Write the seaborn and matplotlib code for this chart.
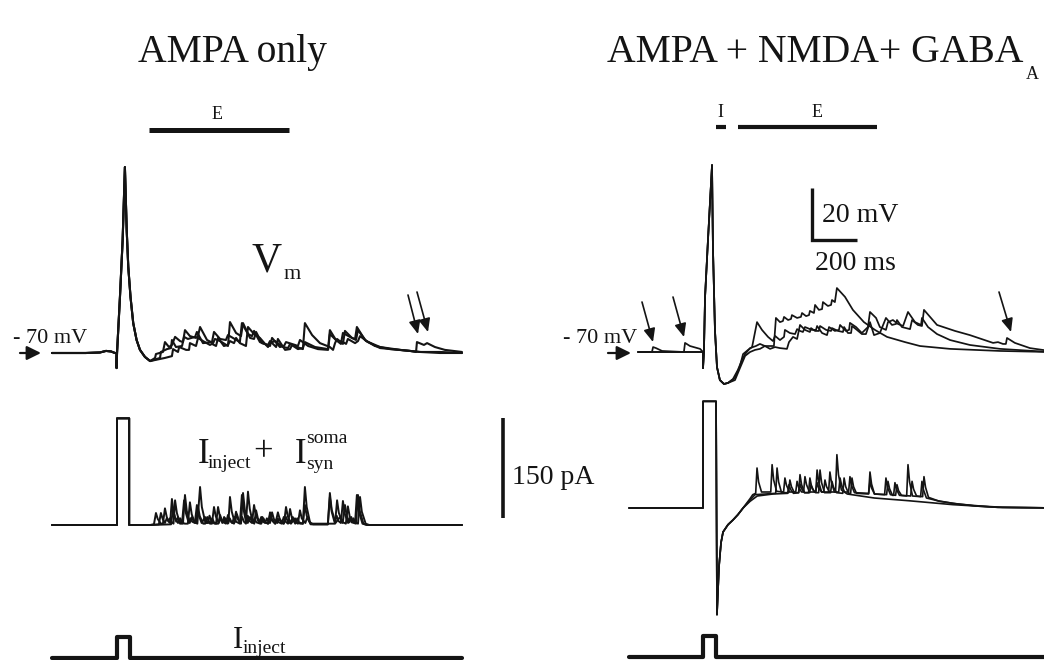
import matplotlib
matplotlib.use("Agg")
import matplotlib.pyplot as plt
import pandas as pd
import seaborn as sns

sns.set_theme(style="white")
plt.rcParams["font.family"] = ["Liberation Serif", "DejaVu Serif"]

INK = "#141414"
W, H = 1044, 660

# ---- calibration of the traces (scale bars: 200 ms, 20 mV, 150 pA) ----
MS_PER_PX = 200 / 45
MV_PER_PX = 20 / 52
PA_PER_PX = 150 / 100
INJ_PER_PX = 160 / 21

# ---- somatic membrane potential, AMPA only (t in ms, V in mV) ----
LEFT_VM_SPIKE = [(0, -70), (150, -70), (213, -69.8), (240, -69.2), (262, -69.4), (280, -70),
                 (287, -70), (287, -75.8), (289, -70), (302, -48.5), (314, -26.5), (324, 1.5),
                 (332, -22.7), (339, -36.9), (349, -48.5), (361, -58.5), (376, -65), (391, -68.8),
                 (413, -71.5), (436, -73.1)]
LEFT_VM_A = [(458, -71.9), (462, -70.4), (493, -69.6), (502, -65.8), (520, -67.7), (533, -66.9),
             (547, -63.8), (569, -65.4), (582, -65.8), (591, -61.2), (613, -63.5), (640, -64.2),
             (649, -63.5), (658, -60.0), (689, -65.0), (716, -66.2), (724, -64.6), (747, -65.4),
             (782, -67.3), (791, -58.1), (818, -62.3), (840, -63.5), (849, -58.5), (880, -64.2),
             (898, -64.6), (907, -61.9), (933, -66.2), (960, -66.9), (969, -65.4), (996, -67.7),
             (1004, -64.6), (1036, -68.8), (1058, -68.5), (1067, -66.9), (1102, -68.1), (1115, -68.5),
             (1124, -58.5), (1156, -63.1), (1191, -66.2), (1235, -67.7), (1249, -68.8), (1258, -66.2),
             (1267, -64.6), (1293, -66.5), (1302, -61.5), (1333, -64.2), (1347, -64.6), (1355, -60.0),
             (1391, -65.0), (1435, -67.3), (1502, -68.5), (1591, -69.2), (1618, -69.6), (1622, -65.8),
             (1653, -66.9), (1667, -66.2), (1702, -67.7), (1746, -68.8), (1822, -69.6)]
LEFT_VM_B = [(480, -71.9), (484, -69.6), (511, -68.5), (529, -68.1), (533, -65.0), (551, -67.7),
             (578, -67.3), (587, -63.8), (604, -64.6), (636, -63.8), (644, -61.9), (671, -66.2),
             (711, -65.8), (720, -61.9), (747, -64.6), (773, -65.0), (782, -63.1), (804, -64.2),
             (835, -65.8), (844, -58.5), (871, -62.7), (889, -63.5), (898, -61.5), (924, -65.8),
             (969, -67.3), (978, -64.2), (1013, -67.7), (1031, -67.3), (1040, -65.8), (1080, -66.9),
             (1093, -67.3), (1102, -65.0), (1138, -67.3), (1182, -68.5), (1227, -68.8), (1235, -62.7),
             (1262, -65.0), (1284, -66.5), (1293, -62.3), (1324, -63.8), (1351, -65.0), (1360, -61.2),
             (1396, -65.4), (1458, -67.7), (1547, -68.8), (1635, -69.6), (1724, -69.6), (1822, -70.0)]
LEFT_VM_C = [(502, -71.9), (533, -71.2), (538, -68.5), (560, -69.6), (565, -67.7), (596, -68.8),
             (609, -68.8), (613, -66.2), (640, -67.3), (649, -64.2), (671, -65.4), (702, -66.9),
             (711, -66.5), (729, -67.3), (738, -64.2), (764, -67.3), (782, -66.9), (791, -65.4),
             (809, -66.2), (818, -64.2), (835, -66.2), (862, -67.3), (871, -60.0), (898, -62.7),
             (924, -64.2), (951, -66.9), (960, -67.7), (969, -66.2), (991, -65.4), (1027, -67.7),
             (1049, -68.1), (1058, -66.5), (1093, -68.5), (1115, -68.1), (1124, -65.8), (1169, -67.7),
             (1227, -68.5), (1235, -61.2), (1262, -65.0), (1293, -65.8), (1307, -66.5), (1315, -64.6),
             (1347, -66.2), (1360, -65.4), (1369, -63.5), (1404, -65.8), (1458, -68.1), (1547, -68.8),
             (1635, -69.6), (1724, -70.0), (1822, -70.0)]

# ---- somatic current I_inject + I_syn, AMPA only (pA) ----
LEFT_I_PULSE = [(0, 0), (289, 0), (289, 160), (343, 160), (343, 0), (436, 0)]
LEFT_I_A = [(453, 1), (462, 18), (470, 9), (484, 2), (493, 2), (502, 25), (510, 12), (517, 6),
            (524, 10), (532, 4), (540, 2), (547, 37), (555, 18), (569, 2), (582, 2), (591, 45),
            (599, 21), (612, 3), (622, 12), (630, 5), (646, 2), (658, 57), (666, 27), (682, 3),
            (692, 3), (700, 14), (708, 6), (722, 2), (739, 2), (747, 15), (755, 7), (764, 4),
            (771, 10), (779, 5), (784, 3), (791, 42), (799, 20), (812, 4), (822, 16), (830, 7),
            (840, 2), (849, 48), (857, 23), (870, 3), (880, 12), (888, 5), (899, 2), (907, 22),
            (915, 10), (930, 2), (940, 10), (948, 4), (961, 2), (969, 19), (977, 9), (993, 2),
            (1004, 19), (1012, 9), (1028, 2), (1040, 12), (1048, 5), (1062, 2), (1080, 10), (1088, 4),
            (1104, 2), (1115, 2), (1124, 57), (1132, 27), (1148, 2), (1258, 2), (1267, 37), (1275, 18),
            (1292, 3), (1302, 30), (1310, 14), (1322, 4), (1330, 12), (1338, 5), (1347, 3), (1355, 45),
            (1363, 21), (1380, 2), (1400, 0), (1822, 0)]
LEFT_I_B = [(475, 1), (484, 18), (492, 9), (502, 3), (510, 10), (518, 5), (525, 3), (533, 39),
            (541, 19), (552, 5), (560, 12), (568, 5), (578, 3), (587, 37), (595, 18), (607, 4),
            (615, 10), (623, 5), (635, 3), (644, 30), (652, 15), (665, 3), (680, 12), (688, 5),
            (703, 2), (711, 2), (720, 27), (728, 13), (741, 3), (750, 10), (758, 5), (773, 2),
            (782, 15), (790, 7), (801, 3), (810, 12), (818, 5), (835, 2), (844, 45), (852, 22),
            (862, 5), (870, 14), (878, 6), (889, 3), (898, 30), (906, 15), (920, 3), (930, 12),
            (938, 5), (947, 3), (955, 10), (963, 4), (969, 3), (978, 19), (986, 9), (1001, 3),
            (1010, 10), (1018, 4), (1031, 2), (1040, 27), (1048, 13), (1061, 3), (1070, 12), (1078, 5),
            (1093, 2), (1102, 22), (1110, 10), (1126, 3), (1135, 12), (1143, 5), (1160, 1), (1226, 1),
            (1235, 42), (1243, 20), (1256, 4), (1265, 14), (1273, 6), (1284, 3), (1293, 36), (1301, 17),
            (1316, 3), (1325, 10), (1333, 4), (1351, 2), (1360, 45), (1368, 21), (1384, 2), (1400, 0),
            (1822, 0)]
LEFT_I_C = [(529, 1), (538, 24), (546, 11), (560, 3), (570, 10), (578, 4), (590, 2), (604, 2),
            (613, 34), (621, 16), (634, 4), (640, 3), (649, 27), (657, 13), (672, 2), (681, 2),
            (690, 12), (698, 5), (705, 3), (712, 10), (720, 4), (729, 2), (738, 27), (746, 13),
            (757, 3), (765, 12), (773, 5), (781, 2), (790, 10), (798, 4), (809, 2), (818, 20),
            (826, 9), (837, 3), (845, 12), (853, 5), (862, 2), (871, 50), (879, 24), (892, 4),
            (900, 10), (908, 4), (926, 2), (935, 12), (943, 5), (960, 2), (969, 15), (977, 7),
            (991, 2), (1000, 10), (1008, 4), (1021, 2), (1030, 12), (1038, 5), (1049, 2), (1058, 24),
            (1066, 11), (1081, 2), (1090, 10), (1098, 4), (1115, 2), (1124, 30), (1132, 14), (1150, 1),
            (1226, 1), (1235, 48), (1243, 23), (1260, 3), (1280, 12), (1288, 5), (1306, 2), (1315, 28),
            (1323, 13), (1333, 4), (1340, 10), (1348, 4), (1360, 2), (1369, 42), (1377, 20), (1394, 2),
            (1410, 0), (1822, 0)]

# ---- injected current step (pA) ----
LEFT_INJECT = [(0, 0), (289, 0), (289, 160), (345, 160), (345, 0), (1822, 0)]
RIGHT_INJECT = [(-40, 0), (289, 0), (289, 160), (347, 160), (347, 0), (1870, 0)]

# ---- somatic membrane potential, AMPA + NMDA + GABA_A ----
RIGHT_VM_LEAD_1 = [(0, -70), (62, -70), (67, -68.1), (80, -68.5), (107, -69.6), (204, -70),
                   (209, -66.5), (231, -67.7), (276, -68.8)]
RIGHT_VM_LEAD = [(0, -70), (276, -70)]
RIGHT_VM_SPIKE = [(289, -70), (289, -76.2), (293, -70), (298, -48.8), (311, -26.9), (329, 1.9),
                  (333, -29.6), (342, -61.5), (351, -75.8), (364, -80.8), (382, -82.3)]
RIGHT_VM_1 = [(400, -81.9), (422, -80.4), (444, -76.9), (462, -73.1), (476, -70.8), (498, -68.5),
              (524, -67.7), (542, -66.9), (564, -67.7), (604, -67.7), (613, -56.9), (631, -58.5),
              (644, -58.1), (649, -56.5), (667, -57.7), (680, -57.3), (684, -55.8), (707, -56.9),
              (724, -56.5), (729, -55.0), (747, -56.2), (760, -55.8), (764, -54.2), (782, -55.0),
              (787, -51.9), (804, -53.8), (818, -53.5), (822, -50.8), (844, -52.3), (858, -51.9),
              (862, -50.0), (875, -50.8), (884, -45.4), (920, -48.8), (955, -53.8), (1004, -58.5),
              (1053, -61.5), (1107, -64.2), (1187, -66.2), (1253, -67.7), (1387, -68.8), (1609, -69.6),
              (1831, -70.0)]
RIGHT_VM_2 = [(400, -81.9), (431, -80.0), (453, -75.4), (467, -70.8), (489, -69.2), (507, -68.1),
              (529, -58.5), (551, -61.5), (578, -64.2), (600, -65.8), (609, -63.8), (631, -65.4),
              (649, -64.2), (653, -61.5), (675, -62.7), (698, -63.1), (707, -61.2), (720, -61.9),
              (733, -62.3), (742, -60.4), (773, -61.5), (791, -61.5), (796, -60.0), (818, -62.7),
              (840, -63.5), (849, -60.4), (875, -61.9), (893, -61.5), (898, -59.6), (924, -61.9),
              (938, -61.5), (942, -58.8), (969, -60.4), (995, -62.7), (1022, -60.4), (1031, -54.6),
              (1058, -56.9), (1075, -60.4), (1102, -61.5), (1111, -58.5), (1133, -57.7), (1155, -59.2),
              (1178, -60.0), (1200, -54.6), (1231, -58.5), (1258, -59.6), (1262, -56.9), (1289, -60.4),
              (1329, -63.1), (1387, -65.4), (1475, -67.3), (1609, -68.8), (1831, -70.0)]
RIGHT_VM_3 = [(400, -81.9), (431, -80.8), (453, -76.2), (476, -71.5), (498, -70.0), (520, -69.2),
              (542, -68.8), (564, -67.7), (587, -68.8), (609, -68.1), (631, -68.5), (662, -68.8),
              (671, -66.2), (689, -64.2), (707, -65.0), (720, -59.6), (742, -61.5), (764, -62.3),
              (769, -60.8), (787, -61.9), (804, -61.9), (809, -60.0), (836, -61.5), (858, -61.9),
              (862, -60.8), (889, -61.9), (911, -62.3), (916, -60.4), (933, -62.7), (947, -62.7),
              (951, -60.0), (973, -61.5), (995, -63.1), (1013, -63.1), (1031, -58.5), (1049, -63.5),
              (1075, -62.7), (1102, -56.9), (1129, -59.6), (1147, -59.2), (1151, -57.7), (1173, -60.4),
              (1209, -61.2), (1218, -57.7), (1244, -59.6), (1262, -60.0), (1271, -53.8), (1329, -59.6),
              (1409, -61.9), (1475, -63.5), (1578, -66.5), (1600, -66.2), (1622, -66.9), (1635, -66.9),
              (1640, -64.6), (1675, -66.5), (1742, -68.5), (1831, -69.6)]

# ---- somatic current, AMPA + NMDA + GABA_A (pA) ----
RIGHT_I_PULSE = [(-40, 0), (289, 0), (289, 160), (347, 160), (351, -160), (360, -88), (369, -52),
                 (378, -36), (400, -25), (422, -18), (444, -10), (467, 0)]
RIGHT_I_1 = [(498, 12), (520, 20), (612, 22), (618, 60), (625, 39), (638, 23), (669, 23), (675, 42),
             (682, 32), (695, 23), (714, 23), (720, 36), (727, 29), (740, 23), (758, 23), (764, 45),
             (771, 33), (784, 24), (790, 24), (796, 57), (803, 39), (816, 24), (825, 24), (831, 42),
             (838, 32), (851, 24), (878, 24), (884, 80), (891, 50), (904, 27), (930, 21), (1050, 15),
             (1200, 11), (1300, 8), (1400, 5), (1500, 3), (1600, 1), (1870, 0)]
RIGHT_I_2 = [(498, 14), (510, 20), (523, 22), (529, 60), (536, 39), (549, 24), (590, 24), (596, 65),
             (603, 42), (616, 25), (647, 24), (653, 45), (660, 34), (673, 24), (701, 24), (707, 40),
             (714, 31), (727, 24), (736, 24), (742, 47), (749, 35), (762, 24), (790, 24), (796, 38),
             (803, 30), (816, 24), (847, 24), (853, 54), (860, 38), (873, 24), (892, 24), (898, 45),
             (905, 34), (918, 24), (936, 24), (942, 47), (949, 34), (962, 23), (1025, 22), (1031, 54),
             (1038, 36), (1051, 21), (1105, 20), (1111, 40), (1118, 29), (1131, 19), (1136, 19),
             (1142, 38), (1149, 28), (1162, 19), (1194, 18), (1200, 65), (1207, 39), (1220, 18),
             (1256, 17), (1262, 40), (1269, 27), (1282, 15), (1330, 11), (1400, 7), (1500, 3),
             (1600, 1), (1870, 0)]
RIGHT_I_3 = [(498, 10), (530, 18), (600, 21), (665, 22), (671, 35), (678, 28), (691, 22), (714, 23),
             (720, 50), (727, 35), (740, 23), (763, 23), (769, 35), (776, 28), (789, 23), (803, 23),
             (809, 57), (816, 38), (829, 23), (856, 23), (862, 40), (869, 31), (882, 23), (910, 22),
             (916, 45), (923, 32), (936, 22), (945, 22), (951, 45), (958, 32), (971, 22), (1025, 21),
             (1031, 40), (1038, 30), (1051, 21), (1096, 20), (1102, 45), (1109, 31), (1122, 20),
             (1145, 19), (1151, 35), (1158, 26), (1171, 19), (1212, 18), (1218, 40), (1225, 28),
             (1238, 18), (1265, 17), (1271, 47), (1278, 31), (1291, 16), (1340, 10), (1420, 6),
             (1520, 3), (1620, 1), (1870, 0)]

# ---- stimulation periods (ms) ----
LEFT_BARS = [("E", 431, 1053)]
RIGHT_BARS = [("I", 347, 391), ("E", 444, 1062)]
LEFT_BAR_MV, RIGHT_BAR_MV = 15.8, 16.5

# ---- scale bars ----
SCALE_MS, SCALE_MV, SCALE_PA = 200, 20, 150
SCALE_T0, SCALE_V0 = 773, -26.9
PA_BAR_T, PA_BAR_LOW = -600, -15

fig = plt.figure(figsize=(W / 100, H / 100), dpi=100)
fig.patch.set_facecolor("white")


def trace_axes(px0, px1, py0, py1, t0_px, ref_py, ref_val, per_px):
    ax = fig.add_axes([px0 / W, 1 - py1 / H, (px1 - px0) / W, (py1 - py0) / H])
    lims = (((px0 - t0_px) * MS_PER_PX, (px1 - t0_px) * MS_PER_PX),
            (ref_val - (py1 - ref_py) * per_px, ref_val + (ref_py - py0) * per_px))
    ax.patch.set_alpha(0)
    return ax, lims


def draw(ax, lims, traces, lw):
    rows = []
    for k, pts in enumerate(traces):
        for t, y in pts:
            rows.append((k, t, y))
    df = pd.DataFrame(rows, columns=["trace", "t", "y"])
    sns.lineplot(data=df, x="t", y="y", units="trace", estimator=None, sort=False,
                 color=INK, linewidth=lw, ax=ax, legend=False)
    ax.set_xlim(*lims[0])
    ax.set_ylim(*lims[1])
    ax.set_axis_off()


# left column
ax_lv, lim_lv = trace_axes(0, 500, 90, 400, 52, 353, -70, MV_PER_PX)
draw(ax_lv, lim_lv, [LEFT_VM_SPIKE + LEFT_VM_A, LEFT_VM_SPIKE + LEFT_VM_B,
                     LEFT_VM_SPIKE + LEFT_VM_C], 1.5)
ax_li, lim_li = trace_axes(0, 500, 390, 630, 52, 525, 0, PA_PER_PX)
draw(ax_li, lim_li, [LEFT_I_PULSE + LEFT_I_A, LEFT_I_PULSE + LEFT_I_B,
                     LEFT_I_PULSE + LEFT_I_C], 1.4)
ax_lj, lim_lj = trace_axes(0, 500, 610, 668, 52, 658, 0, INJ_PER_PX)
draw(ax_lj, lim_lj, [LEFT_INJECT], 3.0)

# right column
ax_rv, lim_rv = trace_axes(490, 1044, 90, 400, 638, 352, -70, MV_PER_PX)
draw(ax_rv, lim_rv, [RIGHT_VM_LEAD_1 + RIGHT_VM_SPIKE + RIGHT_VM_1,
                     RIGHT_VM_LEAD + RIGHT_VM_SPIKE + RIGHT_VM_2,
                     RIGHT_VM_LEAD + RIGHT_VM_SPIKE + RIGHT_VM_3], 1.25)
ax_ri, lim_ri = trace_axes(490, 1044, 390, 630, 638, 508, 0, PA_PER_PX)
draw(ax_ri, lim_ri, [RIGHT_I_PULSE + RIGHT_I_1, RIGHT_I_PULSE + RIGHT_I_2,
                     RIGHT_I_PULSE + RIGHT_I_3], 1.2)
ax_rj, lim_rj = trace_axes(490, 1044, 610, 668, 638, 657, 0, INJ_PER_PX)
draw(ax_rj, lim_rj, [RIGHT_INJECT], 3.0)

# stimulation bars
for _, t0, t1 in LEFT_BARS:
    ax_lv.plot([t0, t1], [LEFT_BAR_MV] * 2, color=INK, lw=3.6, solid_capstyle="butt")
for _, t0, t1 in RIGHT_BARS:
    ax_rv.plot([t0, t1], [RIGHT_BAR_MV] * 2, color=INK, lw=3.0, solid_capstyle="butt")

# 20 mV / 200 ms and 150 pA scale bars
ax_rv.plot([SCALE_T0, SCALE_T0, SCALE_T0 + SCALE_MS],
           [SCALE_V0 + SCALE_MV, SCALE_V0, SCALE_V0], color=INK, lw=2.4,
           solid_joinstyle="miter", solid_capstyle="butt")
ax_ri.plot([PA_BAR_T, PA_BAR_T], [PA_BAR_LOW, PA_BAR_LOW + SCALE_PA], color=INK, lw=2.6,
           solid_capstyle="butt", clip_on=False)

# overlay in pixel units for labels and arrows
ov = fig.add_axes([0, 0, 1, 1])
ov.set_xlim(0, W)
ov.set_ylim(H, 0)
ov.set_axis_off()
ov.patch.set_alpha(0)


def label(x, y, s, size, ha="left"):
    return ov.text(x, y, s, fontsize=size, ha=ha, va="baseline", color=INK)


def arrow(x0, y0, x1, y1, lw=1.2, hl=0.8, hw=0.35):
    ov.annotate("", xy=(x1, y1), xytext=(x0, y0),
                arrowprops=dict(arrowstyle=f"-|>,head_length={hl},head_width={hw}",
                                color=INK, lw=lw, shrinkA=0, shrinkB=0, mutation_scale=10))


label(232, 62, "AMPA only", 28.5, ha="center")
ttl = label(607, 62, "AMPA + NMDA+ GABA", 28.5)
fig.canvas.draw()
bb = ttl.get_window_extent(fig.canvas.get_renderer())
x_end = ov.transData.inverted().transform((bb.x1, bb.y0))[0]
label(x_end + 2, 79, "A", 13)

label(217, 119, "E", 13, ha="center")
label(720, 117, "I", 13, ha="center")
label(817, 117, "E", 13, ha="center")

label(252, 272, "V", 30)
label(284, 279, "m", 16)

label(13, 343, "- 70 mV", 16)
label(563, 343, "- 70 mV", 16)
arrow(20, 353, 41, 353, lw=1.6, hl=0.85, hw=0.42)
arrow(608, 353, 631, 353, lw=1.6, hl=0.85, hw=0.42)

label(822, 222, "20 mV", 20)
label(815, 270, "200 ms", 20)
label(512, 484, "150 pA", 20)

label(198, 463, "I", 25)
label(208, 468, "inject", 14)
label(253, 461, "+", 25)
label(295, 463, "I", 25)
label(306, 443, "soma", 14)
label(306, 469, "syn", 14)

label(233, 648, "I", 22)
label(243, 653, "inject", 14)

arrow(408, 295, 418, 334)
arrow(417, 292, 428, 332)
arrow(642, 302, 653, 342)
arrow(673, 297, 684, 337)
arrow(999, 292, 1011, 332)

fig.savefig("out.png", dpi=100, facecolor="white")
